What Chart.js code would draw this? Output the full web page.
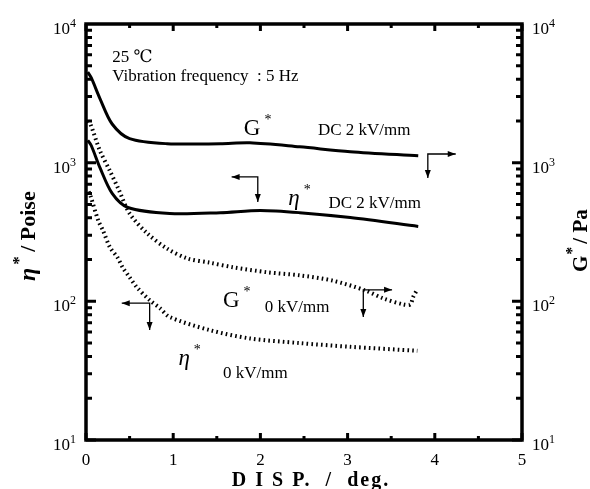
<!DOCTYPE html>
<html>
<head>
<meta charset="utf-8">
<script src="https://cdn.jsdelivr.net/npm/chart.js@4.4.0/dist/chart.umd.min.js"></script>
<style>
  html, body { margin: 0; padding: 0; background: #fff; }
  #wrap { width: 590px; height: 489px; position: relative; }
</style>
</head>
<body>
<div id="wrap"><canvas id="dispChart"></canvas></div>
<script>
// Displacement (deg) and measured values for each curve
const gDcX   = [0.02, 0.06, 0.16, 0.30, 0.50, 0.93, 1.54, 1.88, 2.45, 3.03, 3.81];
const gDcY   = [4500, 4100, 2900, 1900, 1490, 1370, 1370, 1390, 1300, 1200, 1120];

const etaDcX = [0.02, 0.06, 0.16, 0.30, 0.48, 0.96, 1.54, 2.00, 2.45, 3.03, 3.81];
const etaDcY = [1450, 1330, 920, 600, 475, 430, 436, 452, 436, 402, 347];

const g0X    = [0.02, 0.05, 0.16, 0.275, 0.37, 0.50, 0.70, 0.93, 1.16, 1.42, 1.69, 2.08, 2.45, 2.83, 3.20, 3.41, 3.64, 3.72, 3.75, 3.80];
const g0Y    = [2000, 1900, 1220, 870, 650, 430, 310, 240, 204, 190, 176, 162, 154, 141, 120, 105, 95, 95, 107, 122];

const eta0X  = [0.03, 0.05, 0.14, 0.195, 0.275, 0.36, 0.42, 0.50, 0.585, 0.73, 0.85, 0.96, 1.42, 1.88, 2.45, 3.03, 3.80];
const eta0Y  = [620, 580, 383, 324, 245, 208, 176, 149, 126, 102, 89, 77, 62, 54, 50, 47, 44];

// Axis ticks
const xTicks = [0, 1, 2, 3, 4, 5];
const yExponents = [1, 2, 3, 4];

function toPoints(xs, ys) {
  return xs.map((x, i) => ({ x: x, y: ys[i] }));
}

const SERIF = '"Liberation Serif", "DejaVu Serif", serif';

// Labels and arrows placed in data units (x: deg, y: value)
const notes = [
  { text: '25 \u2103', x: 0.30, y: 5320, size: 17 },
  { text: 'Vibration frequency  : 5 Hz', x: 0.30, y: 3880, size: 17 },
  { text: 'G', x: 1.81, y: 1585, size: 23, star: true },
  { text: 'DC 2 kV/mm', x: 2.66, y: 1585, size: 17 },
  { text: '\u03B7', x: 2.32, y: 495, size: 23, star: true, italic: true },
  { text: 'DC 2 kV/mm', x: 2.78, y: 470, size: 17 },
  { text: 'G', x: 1.57, y: 91, size: 23, star: true },
  { text: '0 kV/mm', x: 2.05, y: 84, size: 17 },
  { text: '\u03B7', x: 1.06, y: 34.7, size: 23, star: true, italic: true },
  { text: '0 kV/mm', x: 1.57, y: 28, size: 17 }
];

// corner point, horizontal end x, vertical end y
const arrows = [
  { x: 3.92, y: 1155, hx: 4.24, vy: 774 },
  { x: 1.97, y: 789, hx: 1.67, vy: 520 },
  { x: 3.18, y: 121, hx: 3.51, vy: 77 },
  { x: 0.73, y: 97, hx: 0.41, vy: 62 }
];

function arrowHead(c, x, y, dir) {
  const len = 8, half = 3;
  c.beginPath();
  if (dir === 'right') { c.moveTo(x, y); c.lineTo(x - len, y - half); c.lineTo(x - len, y + half); }
  if (dir === 'left')  { c.moveTo(x, y); c.lineTo(x + len, y - half); c.lineTo(x + len, y + half); }
  if (dir === 'down')  { c.moveTo(x, y); c.lineTo(x - half, y - len); c.lineTo(x + half, y - len); }
  c.closePath();
  c.fill();
}

const decorPlugin = {
  id: 'decor',
  afterDraw(chart) {
    const c = chart.ctx;
    const a = chart.chartArea;
    const xs = chart.scales.x;
    const ys = chart.scales.y;
    c.save();
    c.fillStyle = '#000';
    c.strokeStyle = '#000';

    // frame
    c.lineWidth = 3.5;
    c.strokeRect(a.left, a.top, a.right - a.left, a.bottom - a.top);

    // x ticks, bottom and top, pointing inward
    c.lineWidth = 3;
    for (let v = 0; v <= 5; v += 0.5) {
      const px = xs.getPixelForValue(v);
      const len = Number.isInteger(v) ? 7 : 4;
      c.beginPath();
      c.moveTo(px, a.bottom); c.lineTo(px, a.bottom - len);
      c.moveTo(px, a.top); c.lineTo(px, a.top + len);
      c.stroke();
    }

    // log ticks, left and right
    for (let d = 1; d <= 3; d++) {
      for (let m = 1; m <= 9; m++) {
        const py = ys.getPixelForValue(m * Math.pow(10, d));
        const len = m === 1 ? 10 : 6;
        c.beginPath();
        c.moveTo(a.left, py); c.lineTo(a.left + len, py);
        c.moveTo(a.right, py); c.lineTo(a.right - len, py);
        c.stroke();
      }
    }

    // x tick labels
    c.font = '17px ' + SERIF;
    c.textAlign = 'center';
    c.textBaseline = 'alphabetic';
    xTicks.forEach(v => {
      c.fillText(String(v), xs.getPixelForValue(v), a.bottom + 25);
    });

    // y tick labels, both sides
    yExponents.forEach(e => {
      const py = ys.getPixelForValue(Math.pow(10, e));
      c.font = '17px ' + SERIF;
      const w = c.measureText('10').width;
      c.textAlign = 'left';
      c.fillText('10', a.left - 33, py + 10);
      c.fillText('10', a.right + 10, py + 10);
      c.font = '12px ' + SERIF;
      c.fillText(String(e), a.left - 33 + w, py + 3);
      c.fillText(String(e), a.right + 10 + w, py + 3);
    });

    // x axis title, letter-spaced
    c.save();
    c.font = 'bold 20px ' + SERIF;
    c.textAlign = 'left';
    c.letterSpacing = '2px';
    const xTitle = 'D I S P.  /  deg.';
    const tw = c.measureText(xTitle).width;
    c.fillText(xTitle, 311 - tw / 2, a.bottom + 46);
    c.restore();

    // left axis title
    c.save();
    c.translate(35, 227);
    c.rotate(-Math.PI / 2);
    c.font = 'bold italic 24px ' + SERIF;
    c.textAlign = 'left';
    let tx = -54;
    c.fillText('\u03B7', tx, 0);
    tx += c.measureText('\u03B7').width + 3;
    c.font = 'bold 17px ' + SERIF;
    c.fillText('*', tx, -11);
    tx += 13;
    c.font = 'bold 22px ' + SERIF;
    c.fillText('/ Poise', tx, 0);
    c.restore();

    // right axis title
    c.save();
    c.translate(587, 237);
    c.rotate(-Math.PI / 2);
    c.font = 'bold 21px ' + SERIF;
    c.textAlign = 'left';
    tx = -35;
    c.fillText('G', tx, 0);
    tx += c.measureText('G').width + 1;
    c.font = 'bold 16px ' + SERIF;
    c.fillText('*', tx, -10);
    tx += 11;
    c.font = 'bold 21px ' + SERIF;
    c.fillText('/ Pa', tx, 0);
    c.restore();

    // in-plot notes
    c.textAlign = 'left';
    notes.forEach(n => {
      const px = xs.getPixelForValue(n.x);
      const py = ys.getPixelForValue(n.y);
      c.font = (n.italic ? 'italic ' : '') + n.size + 'px ' + SERIF;
      c.fillText(n.text, px, py);
      if (n.star) {
        const w = c.measureText(n.text).width;
        c.font = '14px ' + SERIF;
        c.fillText('*', px + w + 4, py - 11);
      }
    });

    // arrows
    c.lineWidth = 1.3;
    arrows.forEach(r => {
      const cx = xs.getPixelForValue(r.x);
      const cy = ys.getPixelForValue(r.y);
      const hx = xs.getPixelForValue(r.hx);
      const vy = ys.getPixelForValue(r.vy);
      c.beginPath();
      c.moveTo(hx, cy); c.lineTo(cx, cy); c.lineTo(cx, vy);
      c.stroke();
      arrowHead(c, hx, cy, hx > cx ? 'right' : 'left');
      arrowHead(c, cx, vy, 'down');
    });

    c.restore();
  }
};

const solid = { borderColor: '#000', borderWidth: 3, pointRadius: 0, showLine: true, tension: 0.3, fill: false };
const dotted = { borderColor: '#000', borderWidth: 4, borderDash: [1.6, 3.2], borderCapStyle: 'butt', pointRadius: 0, showLine: true, tension: 0.3, fill: false };

new Chart(document.getElementById('dispChart'), {
  type: 'scatter',
  data: {
    datasets: [
      Object.assign({ label: 'G* DC 2 kV/mm', data: toPoints(gDcX, gDcY), yAxisID: 'y2' }, solid),
      Object.assign({ label: '\u03B7* DC 2 kV/mm', data: toPoints(etaDcX, etaDcY), yAxisID: 'y' }, solid),
      Object.assign({ label: 'G* 0 kV/mm', data: toPoints(g0X, g0Y), yAxisID: 'y2' }, dotted),
      Object.assign({ label: '\u03B7* 0 kV/mm', data: toPoints(eta0X, eta0Y), yAxisID: 'y' }, dotted)
    ]
  },
  options: {
    responsive: true,
    maintainAspectRatio: false,
    animation: false,
    layout: { padding: { left: 86, right: 68, top: 24, bottom: 49 } },
    plugins: { legend: { display: false }, tooltip: { enabled: false } },
    scales: {
      x: { type: 'linear', min: 0, max: 5, display: false },
      y: { type: 'logarithmic', min: 10, max: 10000, position: 'left', display: false },
      y2: { type: 'logarithmic', min: 10, max: 10000, position: 'right', display: false }
    }
  },
  plugins: [decorPlugin]
});
</script>
</body>
</html>
